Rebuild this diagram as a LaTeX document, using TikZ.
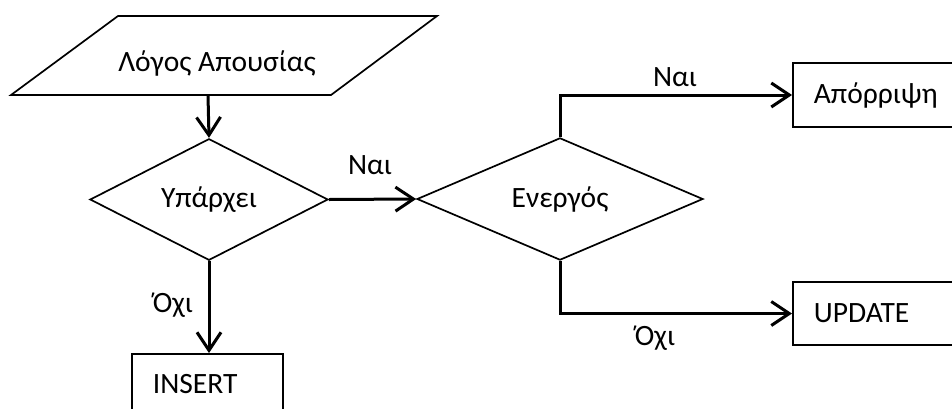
\documentclass[tikz,border=0pt]{standalone}
\usepackage{fontspec}
\setmainfont{Carlito}
\usetikzlibrary{shapes.geometric,arrows.meta}
\begin{document}
\begin{tikzpicture}[x=1pt,y=-1pt,
  shapeline/.style={draw=black,line width=1.7pt,line join=miter},
  flow/.style={line width=3pt,-{Straight Barb[length=18pt,width=24pt,line width=3pt]}},
  decision/.style={shapeline,diamond,inner sep=0pt,font=\fontsize{29.5}{34}\selectfont},
  boxnode/.style={shapeline,rectangle,inner xsep=21pt,inner ysep=0pt,align=left,font=\fontsize{29.5}{34}\selectfont},
  lbl/.style={inner sep=0pt,font=\fontsize{29.5}{34}\selectfont}]
\useasboundingbox (0,0) rectangle (952,408);
\fill[white] (0,0) rectangle (952,408);
\clip (0,0) rectangle (952,408);
% parallelogram
\coordinate (pa) at (118,16);
\coordinate (pb) at (437,16);
\coordinate (pc) at (331,95);
\coordinate (pd) at (11,95);
\draw[shapeline] (pa) -- (pb) -- (pc) -- (pd) -- cycle;
\node[lbl] (reason) at (217,63) {Λόγος Απουσίας};
\coordinate (pout) at (208,95);
% decisions
\node[decision,minimum width=238pt,minimum height=115pt] (exists) at (209,199.5) {Υπάρχει};
\node[decision,minimum width=286pt,minimum height=120pt] (active) at (560,199) {Ενεργός};
% boxes
\node[boxnode,text width=131pt,minimum height=64pt,anchor=west] (reject) at (792,95) {Απόρριψη};
\node[boxnode,text width=131pt,minimum height=63pt,anchor=west] (update) at (792,313.5) {UPDATE};
\node[boxnode,text width=109pt,minimum height=60pt,anchor=north west] (insert) at (131,353) {INSERT};
% connectors
\draw[flow] (pout) -- (exists.north);
\draw[flow] (exists.east) -- (active.west);
\draw[flow] (exists.south) -- (insert.north -| exists.south);
\draw[flow] (active.north) |- (reject.west);
\draw[flow] (active.south) |- (update.west);
% labels
\node[lbl] (yes1) at (370,165) {Ναι};
\node[lbl] (yes2) at (675,77) {Ναι};
\node[lbl] (no1) at (173,305) {Όχι};
\node[lbl] (no2) at (655,338) {Όχι};
\end{tikzpicture}
\end{document}
